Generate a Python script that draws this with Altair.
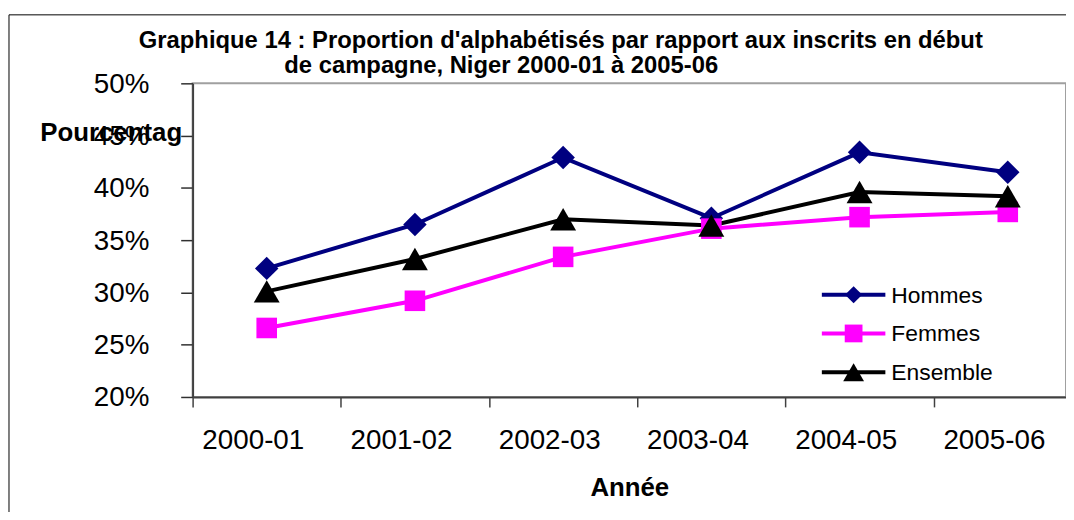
import altair as alt
import pandas as pd

# ---- data ----
annees = ["2000-01", "2001-02", "2002-03", "2003-04", "2004-05", "2005-06"]
series = ["Hommes", "Femmes", "Ensemble"]
hommes = [32.3, 36.5, 42.9, 37.1, 43.4, 41.5]
femmes = [26.6, 29.2, 33.4, 36.1, 37.2, 37.7]
ensemble = [30.1, 33.2, 37.0, 36.4, 39.6, 39.2]
y_ticks = [0.20, 0.25, 0.30, 0.35, 0.40, 0.45, 0.50]
titre = [
    "Graphique 14 : Proportion d'alphabétisés par rapport aux inscrits en début",
    "de campagne, Niger 2000-01 à 2005-06",
]
couleurs = ["#000080", "#FF00FF", "#000000"]
formes = ["diamond", "square", "triangle-up"]

FONT = "Liberation Sans"

rows = []
for nom, vals in zip(series, [hommes, femmes, ensemble]):
    for a, v in zip(annees, vals):
        rows.append({"annee": a, "serie": nom, "valeur": v / 100})
df = pd.DataFrame(rows)

leg_df = pd.DataFrame({"serie": series, "rang": list(range(len(series)))})

color = alt.Color("serie:N", scale=alt.Scale(domain=series, range=couleurs), legend=None)
shape = alt.Shape("serie:N", scale=alt.Scale(domain=series, range=formes), legend=None)

x_enc = alt.X(
    "annee:N",
    sort=annees,
    scale=alt.Scale(type="band", domain=annees, paddingInner=0, paddingOuter=0, range=[0, 896]),
    axis=alt.Axis(
        title="Année",
        labelAngle=0,
        labelFont=FONT,
        labelFontSize=28,
        labelColor="black",
        labelBaseline="alphabetic",
        labelPadding=42,
        labelOffset=-14,
        tickSize=10,
        tickBand="extent",
        tickColor="#404040",
        tickWidth=1.5,
        domainColor="#404040",
        domainWidth=2,
        titleFont=FONT,
        titleFontSize=26,
        titleFontWeight="bold",
        titleColor="black",
        titleX=440,
        titleY=99,
        titleBaseline="alphabetic",
        grid=False,
    ),
)

y_enc = alt.Y(
    "valeur:Q",
    scale=alt.Scale(domain=[0.2, 0.5], nice=False, zero=False),
    axis=alt.Axis(
        title="Pourcentag",
        values=y_ticks,
        format=".0%",
        labelFont=FONT,
        labelFontSize=28,
        labelColor="black",
        labelPadding=32,
        labelBaseline="middle",
        labelOffset=1,
        tickSize=12,
        tickColor="#303030",
        tickWidth=1.5,
        domainColor="#404040",
        domainWidth=2,
        titleFont=FONT,
        titleFontSize=26,
        titleFontWeight="bold",
        titleColor="black",
        titleAngle=0,
        titleAlign="left",
        titleBaseline="alphabetic",
        titleX=-154,
        titleY=58,
        grid=False,
    ),
)

frame = alt.Chart(alt.Data(values=[{"k": 1}])).mark_rect(
    fillOpacity=0, stroke="black", strokeWidth=1
).encode(
    x=alt.value(-185), x2=alt.value(2000), y=alt.value(-69), y2=alt.value(2000)
)

lines = alt.Chart(df).mark_line(strokeWidth=4).encode(x=x_enc, y=y_enc, color=color)
points = alt.Chart(df).mark_point(filled=True, opacity=1, strokeWidth=0).encode(
    x=x_enc,
    y=y_enc,
    color=color,
    shape=shape,
    size=alt.Size(
        "serie:N",
        scale=alt.Scale(type="ordinal", domain=series, range=[560, 430, 680]),
        legend=None,
    ),
)
main = alt.layer(lines, points)

leg_y = alt.Y("rang:Q", scale=alt.Scale(domain=[0, 2], range=[213, 291], nice=False, zero=False), axis=None)
leg_rules = alt.Chart(leg_df).mark_rule(strokeWidth=4).encode(
    x=alt.value(634), x2=alt.value(698), y=leg_y, color=color
)
leg_pts = alt.Chart(leg_df).mark_point(filled=True, opacity=1, strokeWidth=0).encode(
    x=alt.value(666),
    y=leg_y,
    color=color,
    shape=shape,
    size=alt.Size(
        "serie:N",
        scale=alt.Scale(type="ordinal", domain=series, range=[300, 320, 440]),
        legend=None,
    ),
)
leg_txt = alt.Chart(leg_df).mark_text(
    align="left", baseline="alphabetic", dy=8, font=FONT, fontSize=23, color="black"
).encode(x=alt.value(704), y=leg_y, text="serie:N")
legend = alt.layer(leg_rules, leg_pts, leg_txt)

t1 = alt.Chart(alt.Data(values=[{"t": titre[0]}])).mark_text(
    align="center", baseline="alphabetic", font=FONT, fontSize=24, fontWeight="bold", color="black"
).encode(x=alt.value(371), y=alt.value(-36), text="t:N")
t2 = alt.Chart(alt.Data(values=[{"t": titre[1]}])).mark_text(
    align="center", baseline="alphabetic", font=FONT, fontSize=24, fontWeight="bold", color="black"
).encode(x=alt.value(311), y=alt.value(-10), text="t:N")

chart = (
    alt.layer(frame, main, legend, t1, t2)
    .resolve_scale(y="independent", size="independent")
    .properties(
        width=880,
        height=316,
        autosize="none",
        padding={"left": 186, "top": 74, "right": 0, "bottom": 114},
        background="white",
    )
    .configure_view(stroke="#a0a0a0", strokeWidth=2)
)

chart.save("out.html", embed_options={"renderer": "svg", "actions": False})
